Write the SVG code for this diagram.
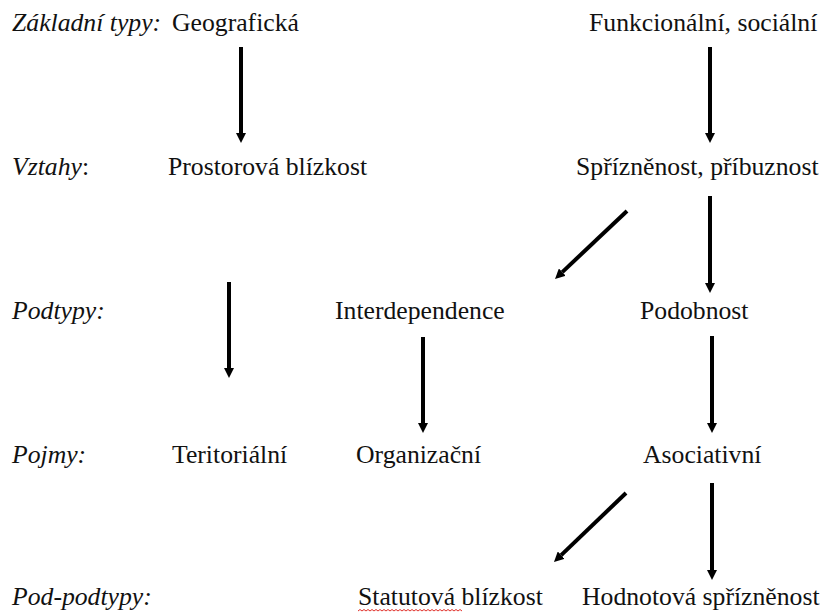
<svg xmlns="http://www.w3.org/2000/svg" width="826" height="615" viewBox="0 0 826 615">
<style>
text{font-family:"Liberation Serif","Times New Roman",serif;font-size:25.7px;fill:#111}
.lab{font-style:italic}
.arr{stroke:#000;stroke-width:4;fill:none}
.sq{stroke:#e0302a;stroke-width:1;fill:none}
</style>
<defs>
<marker id="ah" viewBox="0 0 10 10" refX="0" refY="5" markerWidth="10" markerHeight="10" markerUnits="userSpaceOnUse" orient="auto">
<path d="M0,0 L10,5 L0,10 z" fill="#000"/>
</marker>
</defs>
<rect width="826" height="615" fill="#fff"/>
<g id="labels">
<text class="lab" x="12" y="31">Základní typy:</text>
<text x="12" y="175"><tspan class="lab">Vztahy</tspan>:</text>
<text class="lab" x="12" y="319">Podtypy:</text>
<text class="lab" x="12" y="463">Pojmy:</text>
<text class="lab" x="12" y="605">Pod-podtypy:</text>
</g>
<g id="geograficka"><text x="172" y="31">Geografická</text></g>
<g id="funkcionalni"><text x="589" y="31">Funkcionální, sociální</text></g>
<g id="prostorova"><text x="168" y="175">Prostorová blízkost</text></g>
<g id="spriznenost"><text x="576" y="175">Spřízněnost, příbuznost</text></g>
<g id="interdependence"><text x="335" y="319">Interdependence</text></g>
<g id="podobnost"><text x="640" y="319">Podobnost</text></g>
<g id="teritorialni"><text x="172" y="463">Teritoriální</text></g>
<g id="organizacni"><text x="356" y="463">Organizační</text></g>
<g id="asociativni"><text x="643" y="463">Asociativní</text></g>
<g id="statutova"><text x="358" y="605">Statutová blízkost</text>
<path class="sq" d="M358,611 l2,-1.5 l2,1.5 l2,-1.5 l2,1.5 l2,-1.5 l2,1.5 l2,-1.5 l2,1.5 l2,-1.5 l2,1.5 l2,-1.5 l2,1.5 l2,-1.5 l2,1.5 l2,-1.5 l2,1.5 l2,-1.5 l2,1.5 l2,-1.5 l2,1.5 l2,-1.5 l2,1.5 l2,-1.5 l2,1.5 l2,-1.5 l2,1.5 l2,-1.5 l2,1.5 l2,-1.5 l2,1.5 l2,-1.5 l2,1.5 l2,-1.5 l2,1.5 l2,-1.5 l2,1.5 l2,-1.5 l2,1.5 l2,-1.5 l2,1.5 l2,-1.5 l2,1.5 l2,-1.5 l2,1.5 l2,-1.5 l2,1.5 l2,-1.5 l2,1.5 l2,-1.5 l2,1.5 l2,-1.5 l2,1.5"/>
</g>
<g id="hodnotova"><text x="582" y="605">Hodnotová spřízněnost</text></g>
<g id="connectors" class="arr">
<path class="arr" marker-end="url(#ah)" d="M241,47 L241,133"/>
<path class="arr" marker-end="url(#ah)" d="M710,47 L710,133"/>
<path class="arr" marker-end="url(#ah)" d="M710,196 L710,283"/>
<path class="arr" marker-end="url(#ah)" d="M627,211 L562.3,272.1"/>
<path class="arr" marker-end="url(#ah)" d="M229,282 L229,368"/>
<path class="arr" marker-end="url(#ah)" d="M423,337 L423,423"/>
<path class="arr" marker-end="url(#ah)" d="M712,336 L712,423"/>
<path class="arr" marker-end="url(#ah)" d="M626,493 L561.2,555.1"/>
<path class="arr" marker-end="url(#ah)" d="M712,483 L712,570"/>
</g>
</svg>
